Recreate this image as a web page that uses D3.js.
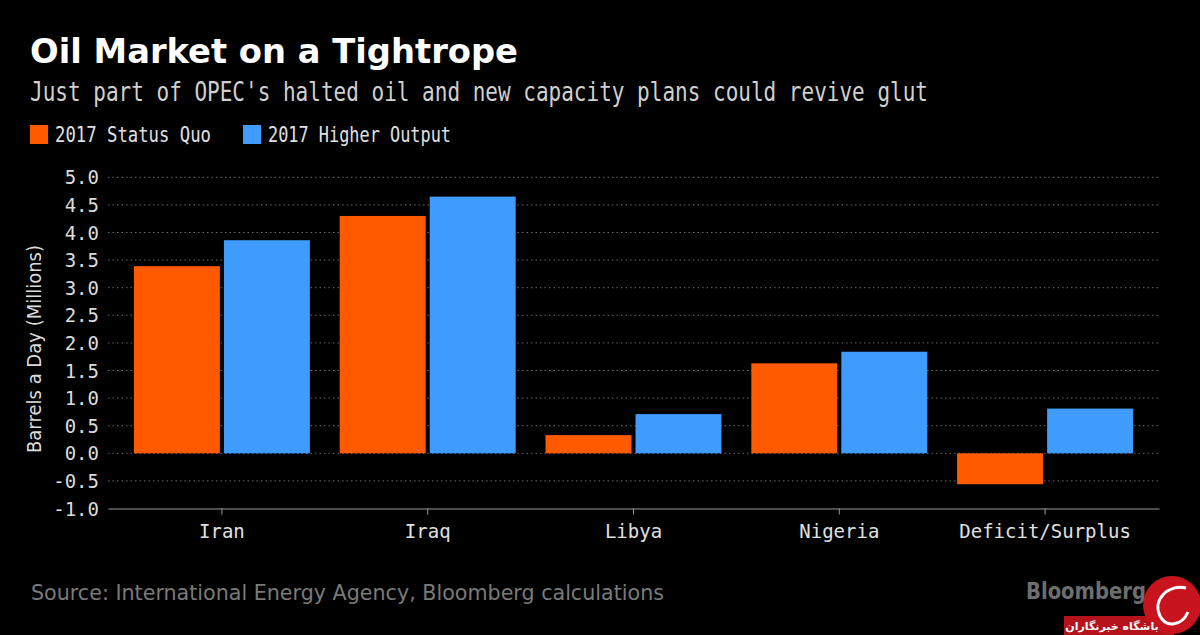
<!DOCTYPE html>
<html>
<head>
<meta charset="utf-8">
<script src="https://cdn.jsdelivr.net/npm/d3@7"></script>
<style>
  body { margin: 0; background: #000; }
  svg { display: block; }
</style>
</head>
<body>
<div id="chart"></div>
<script>
const categories = ["Iran", "Iraq", "Libya", "Nigeria", "Deficit/Surplus"];
const seriesNames = ["2017 Status Quo", "2017 Higher Output"];
const statusQuo = [3.39, 4.30, 0.33, 1.63, -0.56];
const higherOutput = [3.86, 4.65, 0.71, 1.84, 0.81];
const yTicks = [-1.0, -0.5, 0.0, 0.5, 1.0, 1.5, 2.0, 2.5, 3.0, 3.5, 4.0, 4.5, 5.0];
const colors = ["#ff5a00", "#3f9cfd"];

const width = 1200, height = 635;
const mono = "'DejaVu Sans Mono', 'Liberation Mono', monospace";
const sans = "'DejaVu Sans', 'Noto Sans', sans-serif";

const svg = d3.select("#chart").append("svg")
  .attr("width", width)
  .attr("height", height)
  .style("background", "#000");

// title block
svg.append("text")
  .attr("x", 30).attr("y", 63)
  .attr("fill", "#fff")
  .attr("font-family", sans)
  .attr("font-weight", "bold")
  .attr("font-size", 34)
  .attr("textLength", 488).attr("lengthAdjust", "spacingAndGlyphs")
  .text("Oil Market on a Tightrope");

svg.append("text")
  .attr("x", 30).attr("y", 101)
  .attr("fill", "#d0d0d0")
  .attr("font-family", mono)
  .attr("font-size", 27)
  .attr("textLength", 898).attr("lengthAdjust", "spacingAndGlyphs")
  .text("Just part of OPEC's halted oil and new capacity plans could revive glut");

// legend
const legendX = [30, 243];
const legendW = [156, 183];
seriesNames.forEach((name, i) => {
  const g = svg.append("g").attr("transform", `translate(${legendX[i]},125)`);
  g.append("rect").attr("width", 18).attr("height", 19).attr("fill", colors[i]);
  g.append("text")
    .attr("x", 25).attr("y", 17)
    .attr("fill", "#e0e0e0")
    .attr("font-family", mono)
    .attr("font-size", 21)
    .attr("textLength", legendW[i]).attr("lengthAdjust", "spacingAndGlyphs")
    .text(name);
});

// scales
const x0 = d3.scaleBand()
  .domain(categories)
  .range([108, 1159])
  .paddingInner(0.145)
  .paddingOuter(0.126);

const x1 = d3.scaleBand()
  .domain(seriesNames)
  .range([0, x0.bandwidth()])
  .paddingInner(0.045);

const y = d3.scaleLinear().domain([-1, 5]).range([508.5, 177.3]);

// gridlines
svg.append("g")
  .selectAll("line")
  .data(yTicks.filter(d => d > -1))
  .join("line")
  .attr("x1", 108).attr("x2", 1159)
  .attr("y1", d => y(d)).attr("y2", d => y(d))
  .attr("stroke", "#6a6a6a")
  .attr("stroke-width", 1)
  .attr("stroke-dasharray", "1.5,3");

// y axis labels
const yAxis = d3.axisLeft(y)
  .tickValues(yTicks)
  .tickFormat(d3.format(".1f"))
  .tickSize(0)
  .tickPadding(9);

const yG = svg.append("g")
  .attr("transform", "translate(108,0)")
  .call(yAxis);
yG.select(".domain").remove();
yG.selectAll("text")
  .attr("fill", "#dcdcdc")
  .attr("font-family", mono)
  .attr("font-size", 19)
  .attr("dy", "0.35em")
  .text(d => d3.format(".1f")(d).replace("−", "-"));

svg.append("text")
  .attr("transform", "translate(41,349) rotate(-90)")
  .attr("text-anchor", "middle")
  .attr("fill", "#dcdcdc")
  .attr("font-family", sans)
  .attr("font-size", 19)
  .attr("textLength", 208).attr("lengthAdjust", "spacingAndGlyphs")
  .text("Barrels a Day (Millions)");

// bars
const rows = categories.map((c, i) => ({ cat: c, vals: [statusQuo[i], higherOutput[i]] }));
const groups = svg.append("g")
  .selectAll("g")
  .data(rows)
  .join("g")
  .attr("transform", d => `translate(${x0(d.cat)},0)`);

groups.selectAll("rect")
  .data(d => d.vals.map((v, i) => ({ key: seriesNames[i], v, i })))
  .join("rect")
  .attr("x", d => x1(d.key))
  .attr("width", x1.bandwidth())
  .attr("y", d => y(Math.max(0, d.v)))
  .attr("height", d => Math.abs(y(d.v) - y(0)))
  .attr("fill", d => colors[d.i]);

// x axis
const xAxis = d3.axisBottom(x0).tickSize(6).tickPadding(10).tickSizeOuter(0);
const xG = svg.append("g")
  .attr("transform", "translate(0,508.5)")
  .call(xAxis);
xG.select(".domain").attr("stroke", "#9a9a9a");
xG.selectAll(".tick line").attr("stroke", "#9a9a9a");
xG.selectAll("text")
  .attr("fill", "#e0e0e0")
  .attr("font-family", mono)
  .attr("font-size", 19);

// footer
svg.append("text")
  .attr("x", 31).attr("y", 600)
  .attr("fill", "#7a7a7a")
  .attr("font-family", sans)
  .attr("font-size", 21)
  .attr("textLength", 633).attr("lengthAdjust", "spacingAndGlyphs")
  .text("Source: International Energy Agency, Bloomberg calculations");

svg.append("text")
  .attr("x", 1026).attr("y", 599)
  .attr("fill", "#6e6e6e")
  .attr("font-family", sans)
  .attr("font-weight", 600)
  .attr("font-size", 23)
  .attr("textLength", 120).attr("lengthAdjust", "spacingAndGlyphs")
  .text("Bloomberg");
svg.append("rect")
  .attr("x", 1155).attr("y", 581).attr("width", 18).attr("height", 18)
  .attr("fill", "#6e6e6e");

// watermark
svg.append("rect")
  .attr("x", 1064).attr("y", 616).attr("width", 110).attr("height", 19)
  .attr("fill", "#b5121b");
svg.append("circle")
  .attr("cx", 1172).attr("cy", 605).attr("r", 29)
  .attr("fill", "#c8141e");
svg.append("path")
  .attr("d", "M1186,588 C1168,584 1152,600 1160,616 C1166,628 1182,626 1188,612")
  .attr("fill", "none").attr("stroke", "#fff").attr("stroke-width", 3);
svg.append("text")
  .attr("x", 1112).attr("y", 630)
  .attr("text-anchor", "middle")
  .attr("fill", "#fff")
  .attr("font-family", sans)
  .attr("font-weight", "bold")
  .attr("font-size", 11)
  .text("باشگاه خبرنگاران");
</script>
</body>
</html>
